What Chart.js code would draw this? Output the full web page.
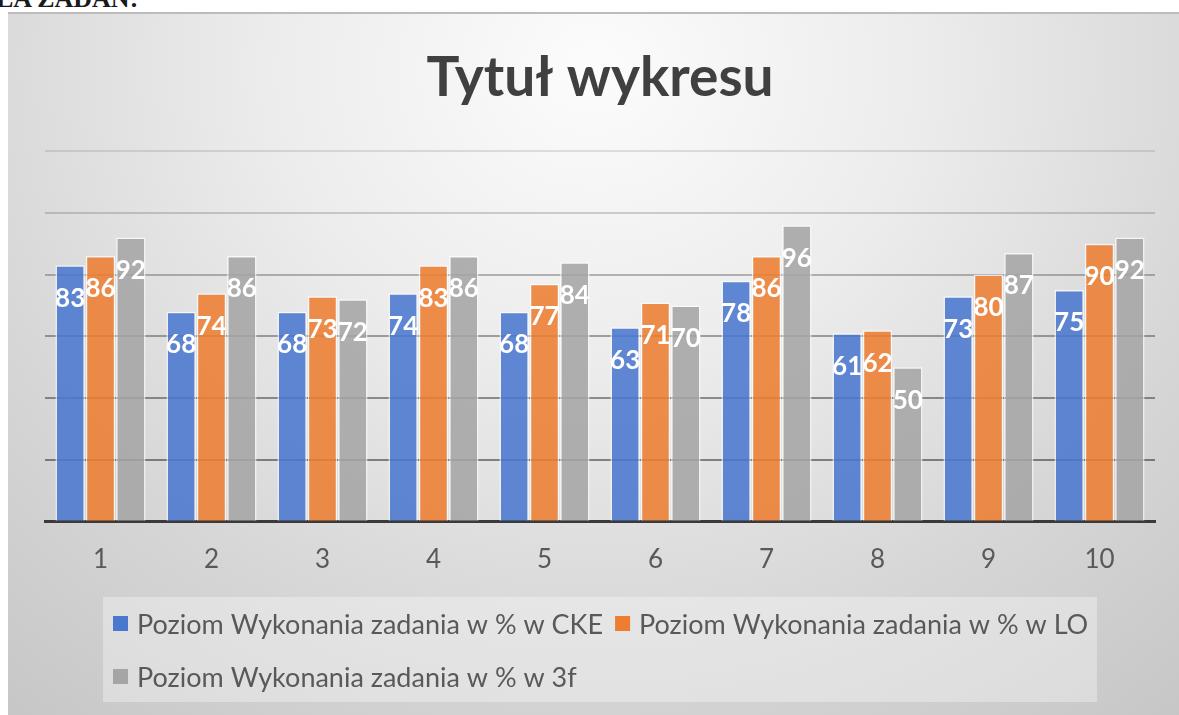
<!DOCTYPE html>
<html lang="pl">
<head>
  <meta charset="utf-8" />
  <title>Tytuł wykresu</title>
  <style>
    html, body { margin: 0; padding: 0; width: 1179px; height: 715px; overflow: hidden; background: #fff; }
    .naglowek {
      position: absolute; left: -4px; top: -16px;
      font: bold 26px "Liberation Serif", serif; color: #1a1a1a; white-space: nowrap;
    }
    .wykres {
      position: absolute; left: 8px; top: 12px; width: 1171px; height: 701px;
      border-top: 2px solid #bcbcbc;
      background: radial-gradient(ellipse 80% 120% at 50% 8%, #fcfcfc 0%, #ececec 35%, #d6d6d6 70%, #c6c6c6 100%);
    }
  </style>
</head>
<body>
  <div class="naglowek">LA ZADAŃ:</div>
  <div class="wykres"><canvas id="wykres" width="1171" height="701"></canvas></div>

  <script src="https://cdn.jsdelivr.net/npm/chart.js@4.4.4/dist/chart.umd.min.js"></script>
  <script>
    // numery zadań i wyniki w procentach
    const zadania = ['1', '2', '3', '4', '5', '6', '7', '8', '9', '10'];
    const wynikiCKE = [83, 68, 68, 74, 68, 63, 78, 61, 73, 75];
    const wynikiLO = [86, 74, 73, 83, 77, 71, 86, 62, 80, 90];
    const wyniki3f = [92, 86, 72, 86, 84, 70, 96, 50, 87, 92];
    const nazwySerii = [
      'Poziom Wykonania zadania w % w CKE',
      'Poziom Wykonania zadania w % w LO',
      'Poziom Wykonania zadania w % w 3f'
    ];
    const osY = { min: 0, max: 120, krok: 20 };

    const kolory = ['#4a78ce', '#ed7d31', '#a5a5a5'];
    const koloryPrzezroczyste = ['rgba(74,120,206,0.88)', 'rgba(237,125,49,0.88)', 'rgba(165,165,165,0.88)'];

    Chart.defaults.font.family = 'Lato, "Open Sans", sans-serif';
    Chart.defaults.color = '#595959';

    // białe liczby w górnej części słupków
    const etykietyWartosci = {
      id: 'etykietyWartosci',
      afterDraw(chart) {
        const ctx = chart.ctx;
        ctx.save();
        ctx.font = 'bold 26px Lato';
        ctx.fillStyle = '#ffffff';
        ctx.textAlign = 'center';
        ctx.textBaseline = 'middle';
        chart.data.datasets.forEach((ds, i) => {
          chart.getDatasetMeta(i).data.forEach((bar, j) => {
            ctx.fillText(String(ds.data[j]), bar.x, bar.y + 33);
          });
        });
        ctx.restore();
      }
    };

    // legenda w jasnej ramce, druga linia od lewej
    const legendaPodWykresem = {
      id: 'legendaPodWykresem',
      afterDraw(chart) {
        const ctx = chart.ctx;
        const ramka = { x: 95, y: 583, w: 994, h: 105 };
        ctx.save();
        ctx.fillStyle = 'rgba(255,255,255,0.33)';
        ctx.fillRect(ramka.x, ramka.y, ramka.w, ramka.h);
        ctx.font = '27px Lato';
        ctx.textBaseline = 'middle';
        let x = 105, y = 610;
        chart.data.datasets.forEach((ds, i) => {
          const szer = ctx.measureText(ds.label).width;
          if (i > 0 && x + 24 + szer > ramka.x + ramka.w - 2) { x = 105; y += 53; }
          ctx.fillStyle = kolory[i];
          ctx.fillRect(x, y - 8, 15, 15);
          ctx.fillStyle = '#595959';
          ctx.fillText(ds.label, x + 24, y + 1);
          x += 24 + szer + 12;
        });
        ctx.restore();
      }
    };

    function kolorSiatki(wartosc) {
      // linie siatki jaśnieją ku górze
      const alfa = { 20: 0.6, 40: 0.54, 60: 0.45, 80: 0.35, 100: 0.22, 120: 0.14 };
      return alfa[wartosc] ? `rgba(60,60,60,${alfa[wartosc]})` : 'rgba(0,0,0,0)';
    }

    new Chart(document.getElementById('wykres'), {
      type: 'bar',
      data: {
        labels: zadania,
        datasets: [wynikiCKE, wynikiLO, wyniki3f].map((dane, i) => ({
          label: nazwySerii[i],
          data: dane,
          backgroundColor: koloryPrzezroczyste[i],
          borderColor: 'rgba(255,255,255,0.7)',
          borderWidth: 1.5,
          categoryPercentage: 0.82,
          barPercentage: 0.97
        }))
      },
      options: {
        responsive: false,
        animation: false,
        layout: { padding: { left: 37, right: 24, top: 0, bottom: 118 } },
        plugins: {
          legend: { display: false },
          tooltip: { enabled: false },
          title: {
            display: true,
            text: 'Tytuł wykresu',
            color: '#404040',
            font: { size: 55, weight: 'bold' },
            padding: { top: 31, bottom: 40 }
          }
        },
        scales: {
          x: {
            z: 1,
            grid: { display: false, drawTicks: false },
            border: { display: true, color: '#3a3a3a', width: 3 },
            ticks: { color: '#595959', font: { size: 26 }, padding: 22 }
          },
          y: {
            min: osY.min,
            max: osY.max,
            ticks: { display: false, stepSize: osY.krok },
            border: { display: false },
            grid: {
              drawTicks: false,
              lineWidth: 2,
              color: (c) => kolorSiatki(c.tick ? c.tick.value : 0)
            },
            afterFit: (skala) => { skala.width = 0; }
          }
        }
      },
      plugins: [etykietyWartosci, legendaPodWykresem]
    });
  </script>
</body>
</html>
